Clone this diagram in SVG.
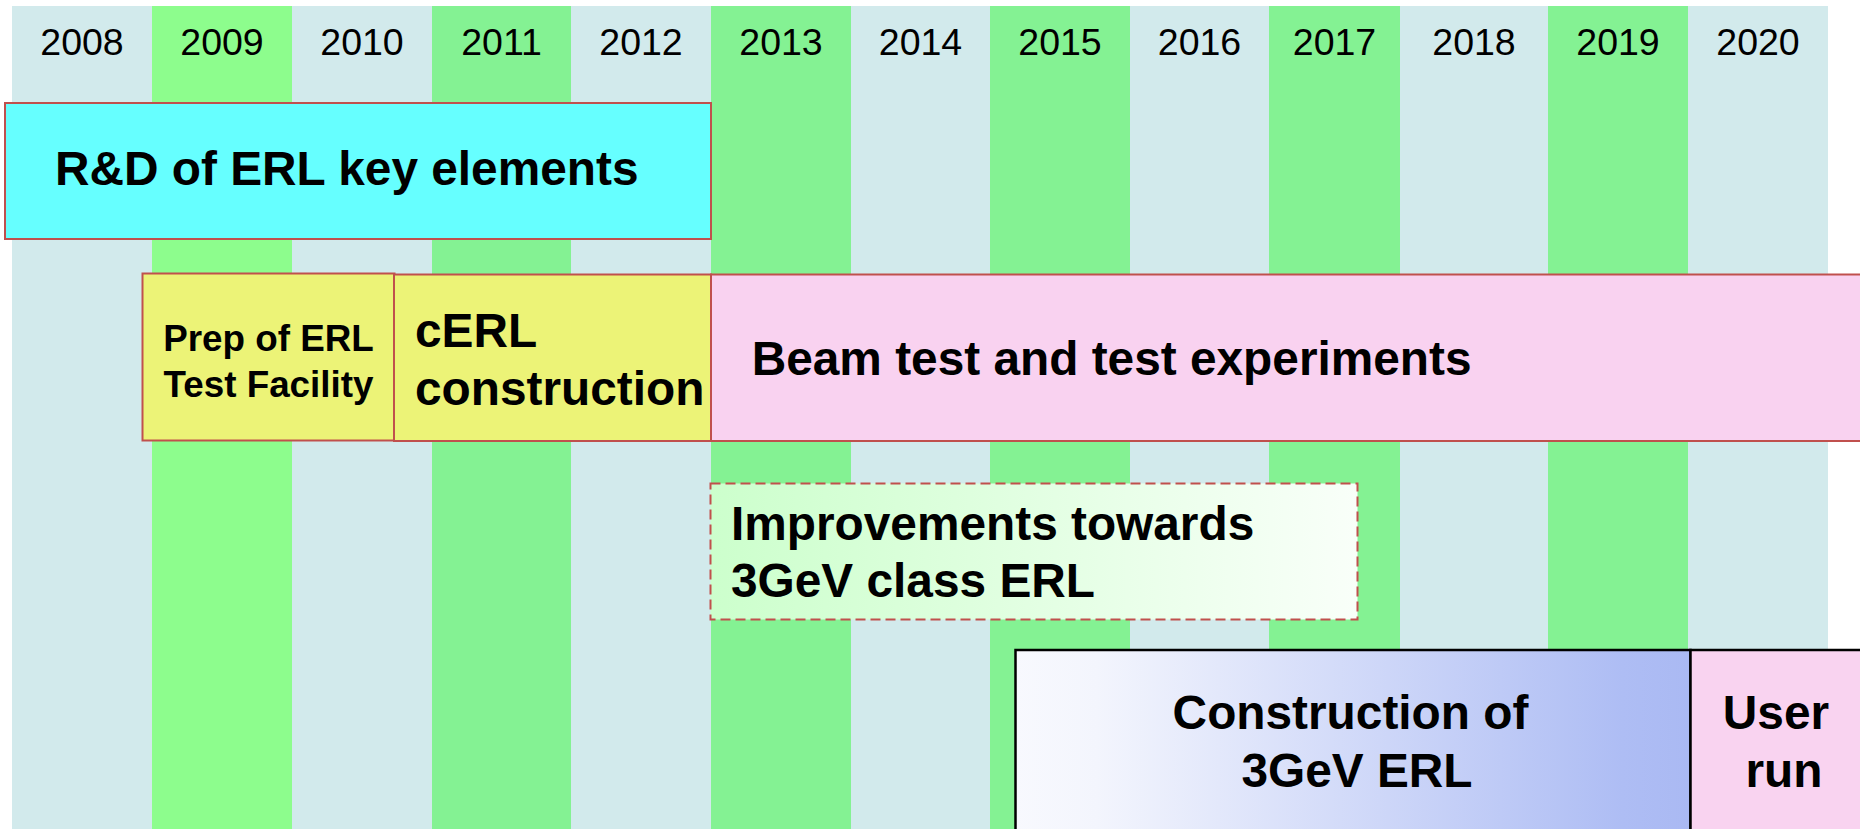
<svg xmlns="http://www.w3.org/2000/svg" width="1860" height="829" viewBox="0 0 1860 829">
<defs>
<style>
.yr{font-family:"Liberation Sans",Arial,sans-serif;font-size:37.5px;fill:#000;text-anchor:middle}
.bt{font-family:"Liberation Sans",Arial,sans-serif;font-weight:bold;font-size:47.8px;fill:#000}
.sm{font-size:36.8px}
.mid{text-anchor:middle}
.blue{fill:#D2EAEC}
.grn{fill:#84F293}
.box{stroke:#C0504D;stroke-width:2}
.blk{stroke:#000;stroke-width:2.5}
</style>
<linearGradient id="gImp" x1="0" y1="0" x2="1" y2="0">
<stop offset="0" stop-color="#CCFFCC"/>
<stop offset="1" stop-color="#F9FFF9"/>
</linearGradient>
<linearGradient id="gCon" x1="0" y1="0" x2="1" y2="0">
<stop offset="0" stop-color="#F8F9FE"/>
<stop offset="0.12" stop-color="#F3F5FD"/>
<stop offset="0.9" stop-color="#AEBDF4"/>
<stop offset="1" stop-color="#AAB9F3"/>
</linearGradient>
</defs>
<rect x="0" y="0" width="1860" height="829" fill="#FFFFFF"/>
<g id="columns">
<rect class="blue" x="12" y="6" width="140" height="823"/>
<rect x="152" y="6" width="140" height="823" fill="#8DFD8D"/>
<rect class="blue" x="292" y="6" width="140" height="823"/>
<rect class="grn" x="432" y="6" width="139" height="823"/>
<rect class="blue" x="571" y="6" width="140" height="823"/>
<rect class="grn" x="711" y="6" width="140" height="823"/>
<rect class="blue" x="851" y="6" width="139" height="823"/>
<rect class="grn" x="990" y="6" width="140" height="823"/>
<rect class="blue" x="1130" y="6" width="139" height="823"/>
<rect class="grn" x="1269" y="6" width="131" height="823"/>
<rect class="blue" x="1400" y="6" width="148" height="823"/>
<rect class="grn" x="1548" y="6" width="140" height="823"/>
<rect class="blue" x="1688" y="6" width="140" height="823"/>
</g>
<g id="years">
<text class="yr" x="82" y="55">2008</text>
<text class="yr" x="222" y="55">2009</text>
<text class="yr" x="362" y="55">2010</text>
<text class="yr" x="501.5" y="55">2011</text>
<text class="yr" x="641" y="55">2012</text>
<text class="yr" x="781" y="55">2013</text>
<text class="yr" x="920.5" y="55">2014</text>
<text class="yr" x="1060" y="55">2015</text>
<text class="yr" x="1199.5" y="55">2016</text>
<text class="yr" x="1334.5" y="55">2017</text>
<text class="yr" x="1474" y="55">2018</text>
<text class="yr" x="1618" y="55">2019</text>
<text class="yr" x="1758" y="55">2020</text>
</g>
<g id="rd">
<rect class="box" x="5" y="103" width="706" height="136" fill="#66FFFF"/>
<text class="bt" x="55" y="185">R&amp;D of ERL key elements</text>
</g>
<g id="prep">
<rect class="box" x="142.5" y="273.5" width="252" height="167" fill="#ECF377"/>
<text class="bt sm mid" x="268.5" y="350.7">Prep of ERL</text>
<text class="bt sm mid" x="268.5" y="396.7">Test Facility</text>
</g>
<g id="cerl">
<rect class="box" x="394" y="274.5" width="317" height="166.5" fill="#ECF377"/>
<text class="bt" x="415" y="346.7">cERL</text>
<text class="bt" x="415" y="405">construction</text>
</g>
<g id="beam">
<rect class="box" x="711" y="274.5" width="1170" height="166.5" fill="#F9D2F0"/>
<text class="bt" x="751.7" y="375">Beam test and test experiments</text>
</g>
<g id="improve">
<rect class="box" x="710.5" y="483.5" width="647" height="136" fill="url(#gImp)" stroke-dasharray="10 5"/>
<text class="bt" x="731" y="540">Improvements towards</text>
<text class="bt" x="731" y="597.3">3GeV class ERL</text>
</g>
<g id="construct">
<rect class="blk" x="1015.5" y="650" width="675" height="200" fill="url(#gCon)"/>
<text class="bt mid" x="1350.5" y="729.3">Construction of</text>
<text class="bt mid" x="1357" y="787.3">3GeV ERL</text>
</g>
<g id="userrun">
<rect class="blk" x="1690.5" y="650" width="200" height="200" fill="#F9D3F0"/>
<text class="bt mid" x="1776" y="729.3">User</text>
<text class="bt mid" x="1784" y="787.3">run</text>
</g>
<g id="connectors"/>
</svg>
